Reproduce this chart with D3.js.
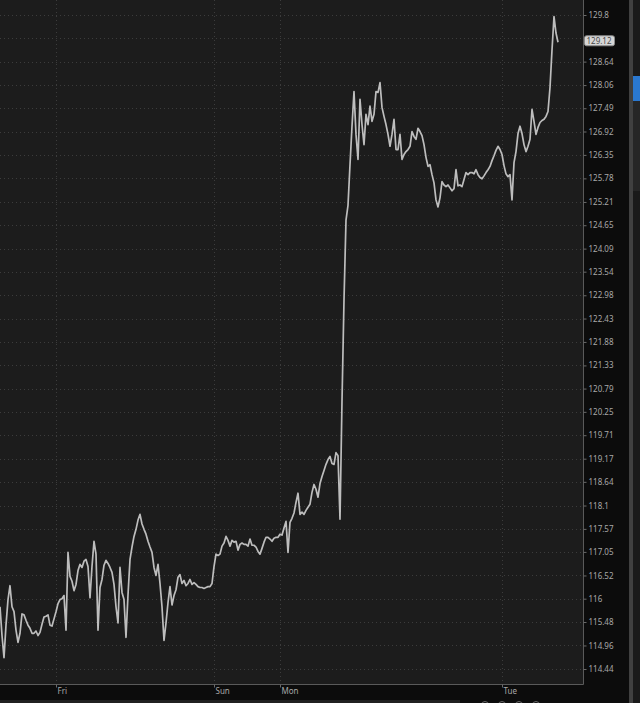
<!DOCTYPE html>
<html>
<head>
<meta charset="utf-8">
<script src="https://cdn.jsdelivr.net/npm/d3@7"></script>
<style>
  html, body { margin: 0; padding: 0; background: #0c0c0c; overflow: hidden; }
  svg { display: block; }
</style>
</head>
<body>
<div id="chart"></div>
<script>
// price per bar left to right
const prices = [
  115.82, 115.18, 114.69, 115.41, 115.98, 116.29, 115.82, 115.71, 115.30, 115.03,
  115.23, 115.66, 115.64, 115.52, 115.41, 115.34, 115.23, 115.23, 115.28, 115.18,
  115.25, 115.43, 115.59, 115.61, 115.64, 115.41, 115.39, 115.55, 115.71, 115.89,
  115.98, 116.00, 116.07, 115.30, 117.04, 116.50, 116.39, 116.18, 116.32, 116.63,
  116.77, 116.70, 116.84, 116.88, 116.72, 116.02, 116.72, 117.29, 117.00, 115.30,
  116.25, 116.43, 116.75, 116.86, 116.79, 116.70, 116.59, 116.32, 115.82, 115.46,
  116.70, 116.14, 115.98, 115.14, 116.09, 116.88, 117.16, 117.40, 117.56, 117.77,
  117.90, 117.68, 117.56, 117.45, 117.29, 117.16, 117.04, 116.70, 116.52, 116.77,
  116.34, 115.82, 115.07, 115.46, 115.91, 116.27, 115.86, 116.07, 116.20, 116.48,
  116.54, 116.34, 116.41, 116.29, 116.34, 116.43, 116.32, 116.36, 116.32, 116.27,
  116.25, 116.25, 116.23, 116.25, 116.27, 116.27, 116.34, 116.72, 117.00, 116.97,
  117.00, 117.18, 117.25, 117.40, 117.31, 117.18, 117.31, 117.27, 117.29, 117.09,
  117.22, 117.25, 117.22, 117.22, 117.18, 117.34, 117.20, 117.20, 117.16, 117.06,
  117.00, 117.13, 117.27, 117.38, 117.38, 117.34, 117.29, 117.36, 117.38, 117.38,
  117.45, 117.43, 117.59, 117.74, 117.04, 117.72, 117.81, 117.93, 118.17, 118.38,
  117.90, 117.95, 117.90, 117.99, 118.06, 118.13, 118.40, 118.58, 118.47, 118.29,
  118.60, 118.76, 118.90, 119.04, 119.15, 119.22, 119.06, 119.04, 119.31, 119.24,
  117.79, 120.50, 122.87, 124.77, 125.13, 126.11, 127.05, 127.90, 126.85, 126.24,
  127.71, 127.09, 126.60, 127.34, 127.09, 127.54, 127.17, 127.34, 127.90, 127.88,
  128.12, 127.51, 127.29, 127.09, 126.85, 126.56, 126.85, 127.22, 126.48, 126.48,
  126.85, 126.24, 126.36, 126.43, 126.48, 126.56, 126.92, 126.80, 126.73, 127.00,
  126.92, 126.82, 126.60, 126.29, 126.07, 126.11, 125.87, 125.67, 125.26, 125.09,
  125.31, 125.70, 125.62, 125.58, 125.62, 125.55, 125.48, 125.53, 125.99, 125.60,
  125.62, 125.58, 125.75, 125.92, 125.87, 125.92, 125.92, 125.89, 125.99, 125.87,
  125.80, 125.77, 125.84, 125.92, 125.99, 126.07, 126.21, 126.33, 126.46, 126.56,
  126.48, 126.36, 126.09, 125.89, 125.82, 125.87, 125.26, 126.16, 126.43, 126.87,
  127.05, 126.87, 126.60, 126.43, 126.56, 126.73, 127.46, 127.17, 126.85, 127.02,
  127.14, 127.19, 127.22, 127.29, 127.41, 128.00, 128.93, 129.76, 129.35, 129.12
];

const priceTicks = [
  129.8, 129.22, 128.64, 128.06, 127.49, 126.92, 126.35, 125.78, 125.21, 124.65,
  124.09, 123.54, 122.98, 122.43, 121.88, 121.33, 120.79, 120.25, 119.71, 119.17,
  118.64, 118.1, 117.57, 117.05, 116.52, 116, 115.48, 114.96, 114.44
];
const hiddenTick = 129.22;   // sits under the last price box
const dayLabels = ["Fri", "Sun", "Mon", "Tue"];
const dayBars = [28, 107, 140, 251];
const lastPrice = 129.12;

const width = 640, height = 703;
const plotRight = 583, plotBottom = 684, axisRight = 629;

const svg = d3.select("#chart").append("svg")
  .attr("width", width)
  .attr("height", height);

// panels
svg.append("rect").attr("x", 0).attr("y", 0).attr("width", width).attr("height", height).attr("fill", "#0c0c0c");
svg.append("rect").attr("x", 0).attr("y", 0).attr("width", plotRight).attr("height", plotBottom).attr("fill", "#1c1c1c");
svg.append("rect").attr("x", axisRight).attr("y", 0).attr("width", 4).attr("height", height).attr("fill", "#404040");
svg.append("rect").attr("x", axisRight + 4).attr("y", 0).attr("width", width - axisRight - 4).attr("height", height).attr("fill", "#1a1a1a");
svg.append("rect").attr("x", axisRight + 4).attr("y", 101).attr("width", 8).attr("height", 90).attr("fill", "#262626");
svg.append("rect").attr("x", axisRight + 4).attr("y", 76).attr("width", 8).attr("height", 25).attr("fill", "#2a78d0");
svg.append("rect").attr("x", 0).attr("y", 700).attr("width", 460).attr("height", 3).attr("fill", "#202020");

// scales
const x = d3.scaleLinear().domain([0, prices.length - 1]).range([0, 558]);
const y = d3.scaleLog().domain([114.44, 129.8]).range([669, 15]);

// grid
svg.append("g").selectAll("line").data(priceTicks).join("line")
  .attr("x1", 0).attr("x2", plotRight)
  .attr("y1", d => Math.round(y(d)) + 0.5).attr("y2", d => Math.round(y(d)) + 0.5)
  .attr("stroke", "#3c3c3c").attr("stroke-dasharray", "1,3");

svg.append("g").selectAll("line").data(dayBars).join("line")
  .attr("x1", d => Math.round(x(d)) + 0.5).attr("x2", d => Math.round(x(d)) + 0.5)
  .attr("y1", 0).attr("y2", plotBottom)
  .attr("stroke", "#3c3c3c").attr("stroke-dasharray", "1,3");

// price line
const line = d3.line()
  .x((d, i) => x(i))
  .y(d => y(d));

svg.append("path")
  .attr("d", line(prices))
  .attr("fill", "none")
  .attr("stroke", "#bdbdbd")
  .attr("stroke-width", 1.7)
  .attr("stroke-linejoin", "round");

// borders
svg.append("line").attr("x1", plotRight + 0.5).attr("x2", plotRight + 0.5).attr("y1", 0).attr("y2", plotBottom + 0.5)
  .attr("stroke", "#5a5a5a");
svg.append("line").attr("x1", 0).attr("x2", plotRight + 0.5).attr("y1", plotBottom + 0.5).attr("y2", plotBottom + 0.5)
  .attr("stroke", "#5a5a5a");

// right axis
const yAxis = svg.append("g")
  .attr("transform", "translate(" + (plotRight + 0.5) + ",0)")
  .call(d3.axisRight(y).tickValues(priceTicks).tickSize(3).tickPadding(2)
    .tickFormat(d => d === hiddenTick ? "" : d3.format("")(d)));
yAxis.select(".domain").remove();
yAxis.selectAll(".tick line").attr("stroke", "#6a6a6a");
yAxis.selectAll(".tick text")
  .attr("fill", "#a8a8a8")
  .style("font-family", "'Noto Sans', sans-serif")
  .style("font-size", "8px");

// bottom axis
const xAxis = svg.append("g")
  .attr("transform", "translate(0," + (plotBottom + 0.5) + ")")
  .call(d3.axisBottom(x).tickValues(dayBars).tickSize(3).tickFormat((d, i) => dayLabels[i]));
xAxis.select(".domain").remove();
xAxis.selectAll(".tick line").attr("stroke", "#6a6a6a");
xAxis.selectAll(".tick text")
  .attr("text-anchor", "start")
  .attr("x", 1)
  .attr("y", 4)
  .attr("fill", "#a8a8a8")
  .style("font-family", "'Noto Sans', sans-serif")
  .style("font-size", "8px");

// last price box
const ly = y(lastPrice) - 1.5;
svg.append("rect")
  .attr("x", plotRight + 1.5).attr("y", ly - 5)
  .attr("width", 30).attr("height", 10).attr("rx", 2)
  .attr("fill", "#d6d6d6").attr("stroke", "#8a8a8a");
svg.append("text")
  .attr("x", plotRight + 3.5).attr("y", ly)
  .attr("dy", "0.35em")
  .attr("fill", "#4a4a4a")
  .style("font-family", "'Noto Sans', sans-serif")
  .style("font-size", "8px")
  .text(d3.format(".2f")(lastPrice));

// toolbar remnants at the very bottom
const icons = [485, 502, 519, 536];
svg.append("g").selectAll("circle").data(icons).join("circle")
  .attr("cx", d => d).attr("cy", 705).attr("r", 3.5)
  .attr("fill", "none").attr("stroke", "#6a6a6a");
</script>
</body>
</html>
